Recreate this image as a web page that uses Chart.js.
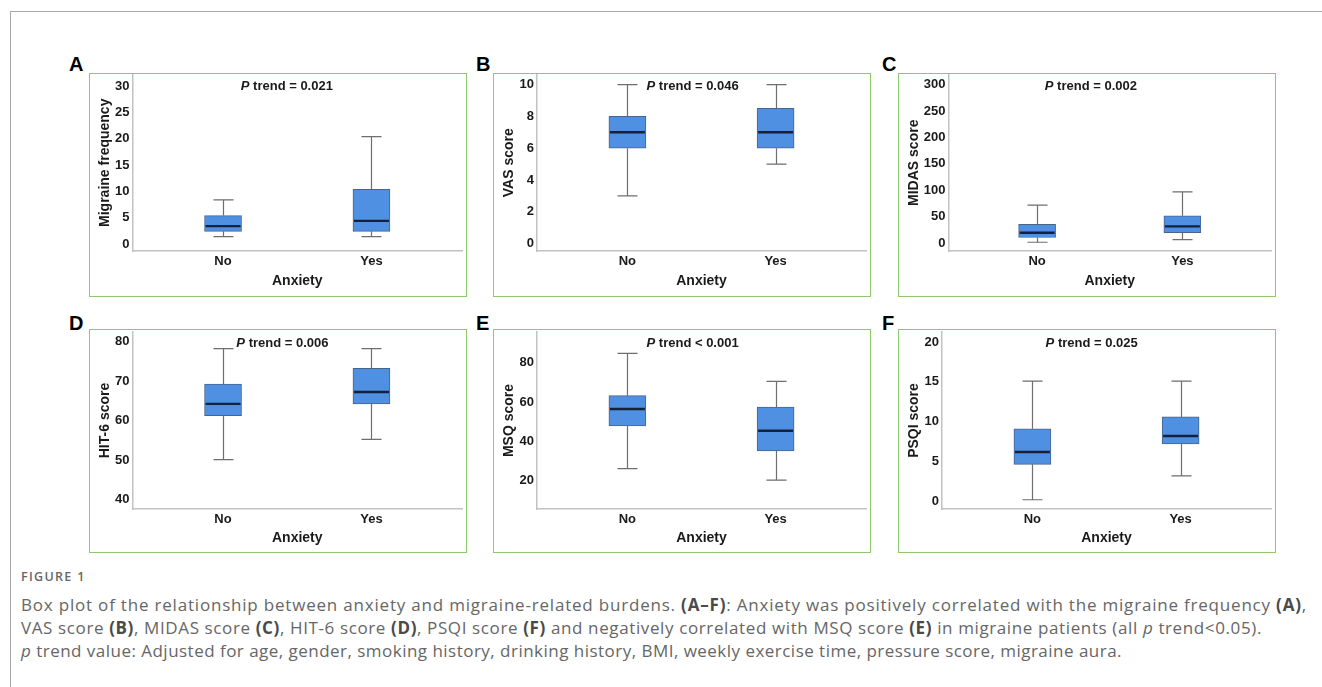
<!DOCTYPE html>
<html>
<head>
<meta charset="utf-8">
<script src="https://cdn.jsdelivr.net/npm/chart.js@4.4.0/dist/chart.umd.min.js"></script>
<style>
  html, body { margin: 0; padding: 0; background: #fff; }
  body { width: 1322px; height: 687px; position: relative; overflow: hidden; font-family: "Liberation Sans", Arial, sans-serif; }
  #frame { position: absolute; left: 10px; top: 11px; width: 1400px; height: 700px; border-top: 1.5px solid #a8a8a8; border-left: 1.5px solid #a8a8a8; }
  .panel { position: absolute; width: 378px; height: 224px; box-sizing: border-box; border: 1.5px solid #8ec86a; }
  .panel canvas { position: absolute; left: 0; top: 0; }
  .letter { position: absolute; font: bold 20px "Liberation Sans", Arial, sans-serif; color: #000; line-height: 20px; }
  #caption { position: absolute; left: 21px; top: 568px; color: #666; font-family: "Open Sans", sans-serif; }
  #caption .fig { font-size: 12.5px; font-weight: 600; color: #666; letter-spacing: 1.3px; line-height: 18px; }
  #caption .line { font-size: 17px; line-height: 23px; white-space: nowrap; }
  #caption .fig + .line { margin-top: 7px; }
  #caption b { font-weight: 700; color: #4a4a4a; }
</style>
</head>
<body>
<div id="frame"></div>
<div id="caption">
  <div class="fig">FIGURE 1</div>
  <div class="line">Box plot of the relationship between anxiety and migraine-related burdens. <b>(A–F)</b>: Anxiety was positively correlated with the migraine frequency <b>(A)</b>,</div>
  <div class="line">VAS score <b>(B)</b>, MIDAS score <b>(C)</b>, HIT-6 score <b>(D)</b>, PSQI score <b>(F)</b> and negatively correlated with MSQ score <b>(E)</b> in migraine patients (all <i>p</i> trend&lt;0.05).</div>
  <div class="line"><i>p</i> trend value: Adjusted for age, gender, smoking history, drinking history, BMI, weekly exercise time, pressure score, migraine aura.</div>
</div>
<script>
'use strict';

const groups = ['No', 'Yes'];

// five-number summaries: [min, q1, median, q3, max]
const freqNo = [1.4, 2.4, 3.4, 5.4, 8.4];
const freqYes = [1.4, 2.4, 4.4, 10.4, 20.4];
const vasNo = [3, 6, 7, 8, 10];
const vasYes = [5, 6, 7, 8.5, 10];
const midasNo = [2, 11, 20, 36, 72];
const midasYes = [7, 20, 32, 52, 97];
const hitNo = [50.2, 61.3, 64.3, 69.3, 78.3];
const hitYes = [55.3, 64.3, 67.3, 73.3, 78.3];
const msqNo = [26.2, 47.8, 56.4, 63.2, 84.6];
const msqYes = [20.3, 35.2, 45.4, 57.4, 70.4];
const psqiNo = [0.2, 4.65, 6.2, 9.1, 15.1];
const psqiYes = [3.2, 7.2, 8.2, 10.6, 15.1];

// y tick labels
const freqTicks = [0, 5, 10, 15, 20, 25, 30];
const vasTicks = [0, 2, 4, 6, 8, 10];
const midasTicks = [0, 50, 100, 150, 200, 250, 300];
const hitTicks = [40, 50, 60, 70, 80];
const msqTicks = [20, 40, 60, 80];
const psqiTicks = [0, 5, 10, 15, 20];

const letters = ['A', 'B', 'C', 'D', 'E', 'F'];
const yTitles = ['Migraine frequency', 'VAS score', 'MIDAS score', 'HIT-6 score', 'MSQ score', 'PSQI score'];
const pTrends = ['= 0.021', '= 0.046', '= 0.002', '= 0.006', '< 0.001', '= 0.025'];

const BOX_FILL = '#4f90e2';
const BOX_EDGE = '#47648c';
const WHISKER = '#6e6e6e';
const MEDIAN = '#15203a';
const AXIS = '#c2c2c2';
const TEXT = '#1a1a1a';

// layout of each panel (page px) and its axis range
const panels = [
  { left: 89,  top: 73,  no: freqNo,  yes: freqYes,  ticks: freqTicks,  min: -1.33, max: 32.2,  yW: 42.5, pX: 1.43 },
  { left: 493, top: 73,  no: vasNo,   yes: vasYes,   ticks: vasTicks,   min: -0.46, max: 10.63, yW: 43,   pX: 1.44 },
  { left: 898, top: 73,  no: midasNo, yes: midasYes, ticks: midasTicks, min: -14.5, max: 318.9, yW: 49.5, pX: 1.37 },
  { left: 89,  top: 329, no: hitNo,   yes: hitYes,   ticks: hitTicks,   min: 37.7,  max: 82.5,  yW: 42.5, pX: 1.40 },
  { left: 493, top: 329, no: msqNo,   yes: msqYes,   ticks: msqTicks,   min: 5.66,  max: 95.5,  yW: 43,   pX: 1.44 },
  { left: 898, top: 329, no: psqiNo,  yes: psqiYes,  ticks: psqiTicks,  min: -0.96, max: 21.26, yW: 43,   pX: 1.40 }
];
const letterPos = [[69, 54], [476, 54], [882, 54], [69, 313], [476, 313], [882, 313]];
// right end of each caption line (page px)
const captionEnds = [1307, 1262, 1122];

function boxPlugin(stats, pText, pX) {
  return {
    id: 'boxplot',
    beforeDatasetsDraw(chart) {
      const { ctx, scales: { x, y } } = chart;
      ctx.save();
      ctx.strokeStyle = WHISKER;
      ctx.lineWidth = 1.2;
      stats.forEach((s, i) => {
        const cx = Math.round(x.getPixelForValue(i + 1)) + 0.5;
        ctx.beginPath();
        ctx.moveTo(cx, y.getPixelForValue(s[4])); ctx.lineTo(cx, y.getPixelForValue(s[3]));
        ctx.moveTo(cx, y.getPixelForValue(s[1])); ctx.lineTo(cx, y.getPixelForValue(s[0]));
        [s[0], s[4]].forEach(v => {
          const py = y.getPixelForValue(v);
          ctx.moveTo(cx - 10, py); ctx.lineTo(cx + 10, py);
        });
        ctx.stroke();
      });
      ctx.restore();
    },
    afterDatasetsDraw(chart) {
      const { ctx, chartArea, scales: { x, y } } = chart;
      const bars = chart.getDatasetMeta(0).data;
      ctx.save();
      ctx.strokeStyle = MEDIAN;
      ctx.lineWidth = 2.4;
      stats.forEach((s, i) => {
        const b = bars[i];
        const py = y.getPixelForValue(s[2]);
        ctx.beginPath();
        ctx.moveTo(b.x - b.width / 2 + 1, py); ctx.lineTo(b.x + b.width / 2 - 1, py);
        ctx.stroke();
      });
      // P trend note
      const fontI = 'italic bold 13px "Liberation Sans", Arial, sans-serif';
      const fontB = 'bold 13px "Liberation Sans", Arial, sans-serif';
      ctx.fillStyle = TEXT;
      ctx.textBaseline = 'middle';
      ctx.font = fontI; const wP = ctx.measureText('P').width;
      ctx.font = fontB; const rest = ' trend ' + pText; const wR = ctx.measureText(rest).width;
      const cx = x.getPixelForValue(pX);
      const ty = chartArea.top + 11.5;
      const tx = cx - (wP + wR) / 2;
      ctx.font = fontI; ctx.fillText('P', tx, ty);
      ctx.font = fontB; ctx.fillText(rest, tx + wP, ty);
      ctx.restore();
    }
  };
}

function makePanel(p, k) {
  const row2 = k >= 3;
  const box = document.createElement('div');
  box.className = 'panel';
  box.style.left = p.left + 'px';
  box.style.top = p.top + 'px';
  const cv = document.createElement('canvas');
  cv.width = 375;
  cv.height = 221;
  cv.style.width = '375px';
  cv.style.height = '221px';
  box.appendChild(cv);
  document.body.appendChild(box);

  const lab = document.createElement('div');
  lab.className = 'letter';
  lab.textContent = letters[k];
  lab.style.left = letterPos[k][0] + 'px';
  lab.style.top = letterPos[k][1] + 'px';
  document.body.appendChild(lab);

  const stats = [p.no, p.yes];
  const tickFont = { family: '"Liberation Sans", Arial, sans-serif', size: 13, weight: 'bold' };
  const titleFont = { family: '"Liberation Sans", Arial, sans-serif', size: 14, weight: 'bold' };

  new Chart(cv, {
    type: 'bar',
    data: {
      datasets: [{
        data: stats.map((s, i) => ({ x: i + 1, y: [s[1], s[3]] })),
        backgroundColor: BOX_FILL,
        borderColor: BOX_EDGE,
        borderWidth: 1,
        borderSkipped: false,
        barThickness: 37
      }]
    },
    options: {
      responsive: false,
      animation: false,
      events: [],
      devicePixelRatio: 1,
      layout: { autoPadding: false, padding: { top: row2 ? 2 : 0.5, right: 3, left: 0, bottom: 0 } },
      plugins: { legend: { display: false }, tooltip: { enabled: false } },
      scales: {
        x: {
          type: 'linear', min: 0.39, max: 2.61, offset: false,
          grid: { display: false, drawTicks: false, offset: false },
          border: { display: true, color: AXIS, width: 1.5 },
          afterBuildTicks: s => { s.ticks = groups.map((g, i) => ({ value: i + 1 })); },
          afterFit: s => { s.height = row2 ? 42 : 44; s.paddingLeft = 0; s.paddingRight = 0; },
          ticks: { font: tickFont, color: TEXT, padding: 3, autoSkip: false, maxRotation: 0, callback: v => groups[v - 1] },
          title: { display: true, text: 'Anxiety', font: titleFont, color: TEXT, padding: { top: 0, bottom: row2 ? 4 : 5 } }
        },
        y: {
          min: p.min, max: p.max,
          grid: { display: false, drawTicks: false },
          border: { display: true, color: AXIS, width: 1.5 },
          afterBuildTicks: s => { s.ticks = p.ticks.map(v => ({ value: v })); },
          afterFit: s => { s.width = p.yW; s.paddingTop = 0; s.paddingBottom = 0; },
          ticks: { font: tickFont, color: TEXT, padding: 3 },
          title: { display: true, text: yTitles[k], font: titleFont, color: TEXT, padding: { top: 7, bottom: 0 } }
        }
      }
    },
    plugins: [boxPlugin(stats, pTrends[k], p.pX)]
  });
}

panels.forEach((p, k) => makePanel(p, k));

// stretch each caption line so it ends where it does in the figure
document.querySelectorAll('#caption .line').forEach((line, i) => {
  const span = document.createElement('span');
  span.innerHTML = line.innerHTML;
  line.innerHTML = '';
  line.appendChild(span);
  const r = span.getBoundingClientRect();
  const n = span.textContent.length;
  line.style.letterSpacing = ((captionEnds[i] - r.right) / n).toFixed(3) + 'px';
});
</script>
</body>
</html>
